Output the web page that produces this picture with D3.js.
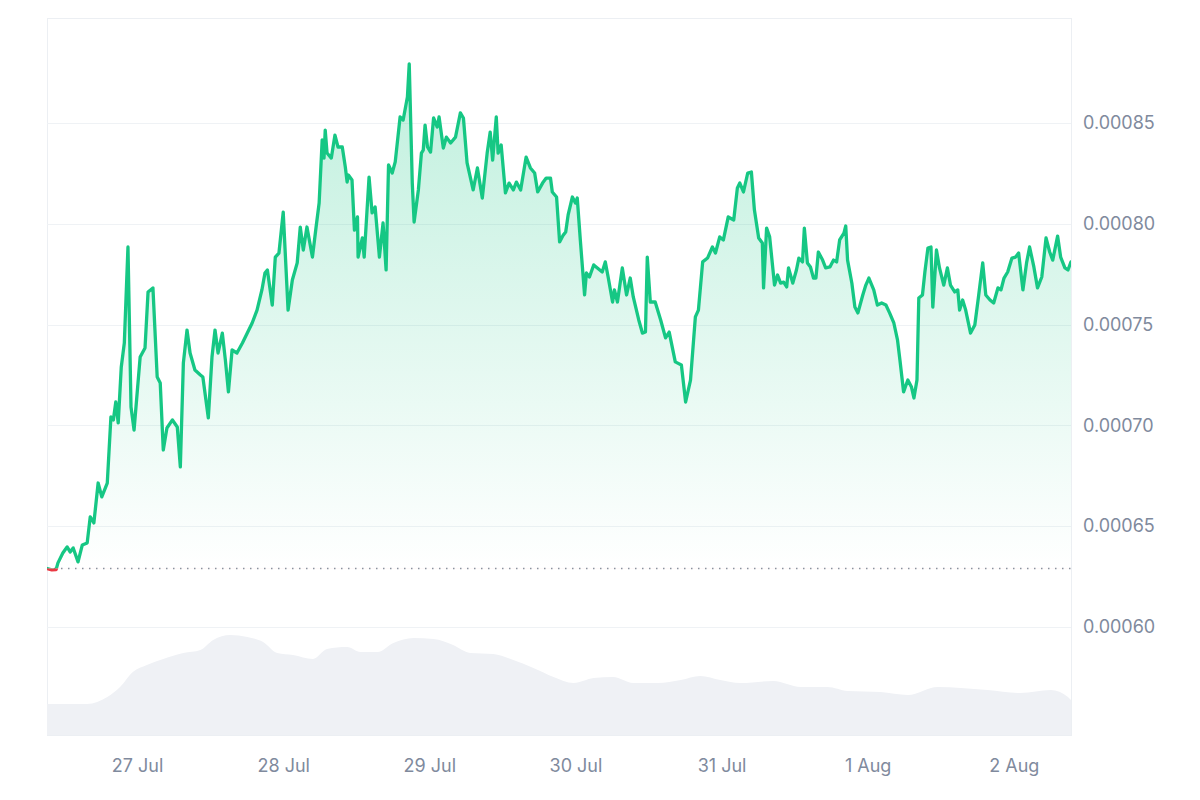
<!DOCTYPE html>
<html>
<head>
<meta charset="utf-8">
<script src="https://cdn.jsdelivr.net/npm/d3@7"></script>
<style>
  html, body { margin: 0; padding: 0; background: #ffffff; }
  svg { display: block; }
  .tick text { font-family: Inter, "Noto Sans", sans-serif; }
</style>
</head>
<body>
<svg id="chart" width="1200" height="800"></svg>
<script>
// ---- data (hours since 26 Jul 00:00 UTC) ----
const priceHours = [9.2,10.0,10.7,11.0,11.8,12.5,13.0,13.5,14.3,15.0,15.8,16.3,16.9,17.6,18.2,19.1,19.7,20.1,20.5,20.9,21.4,21.9,22.5,23.0,23.5,24.5,25.3,25.8,26.6,27.3,27.8,28.3,28.9,29.8,30.6,31.1,31.6,32.2,32.7,33.5,34.4,34.8,35.7,36.3,36.8,37.3,38.0,38.5,39.0,39.6,40.4,41.3,42.1,42.9,43.7,44.5,45.0,45.4,46.2,46.7,47.3,48.0,48.8,49.5,50.3,50.8,51.3,51.9,52.8,53.4,53.9,54.4,54.7,54.9,55.2,55.9,56.5,57.0,57.7,58.2,58.5,58.7,59.3,59.7,60.2,60.3,61.0,61.3,62.1,62.6,63.1,63.8,64.4,64.9,65.3,65.9,66.4,67.2,67.7,68.4,68.7,69.2,69.5,70.2,70.7,71.0,71.3,71.7,72.2,72.7,73.3,73.6,74.3,74.8,75.5,76.3,77.1,77.6,78.2,79.2,79.9,80.7,81.5,82.0,82.4,83.0,83.3,83.8,84.5,85.1,85.8,86.3,87.0,87.9,88.6,89.3,89.8,90.6,91.2,91.9,92.2,92.9,93.4,94.0,94.4,94.8,95.5,96.0,96.3,96.8,97.5,97.8,98.3,99.0,99.6,100.4,100.9,101.4,102.1,102.4,102.9,103.7,104.4,105.0,105.5,106.4,107.0,107.5,107.8,108.3,109.1,110.0,110.8,111.4,112.4,113.4,114.1,114.9,115.7,116.2,116.9,117.7,118.5,119.0,119.7,120.3,121.1,122.0,122.6,123.0,123.6,124.3,124.9,125.4,126.1,126.7,126.9,127.4,127.9,128.7,129.2,129.7,130.2,130.7,131.0,131.7,132.3,132.7,133.3,133.6,134.1,134.6,135.1,135.5,135.9,136.6,137.1,137.8,138.4,138.9,139.4,140.1,140.4,140.7,141.4,141.9,142.4,143.2,143.7,144.2,145.0,145.6,146.3,147.0,147.6,148.3,148.9,149.3,149.9,150.6,151.2,151.6,152.1,152.4,153.0,153.4,153.9,154.4,154.7,155.3,155.8,156.5,157.1,157.6,158.3,158.8,159.1,159.6,160.1,160.9,161.6,162.2,162.9,163.4,164.1,164.7,165.4,165.9,166.4,167.0,167.7,168.3,168.8,169.5,170.1,170.6,171.3,171.9,172.6,173.3,173.9,174.4,175.2,175.7,176.4,176.9,177.4];
const prices = [0.0006290,0.0006283,0.0006285,0.0006318,0.0006367,0.0006397,0.0006372,0.0006392,0.0006323,0.0006407,0.0006417,0.0006546,0.0006516,0.0006714,0.0006645,0.0006714,0.0007042,0.0007027,0.0007116,0.0007012,0.0007290,0.0007409,0.0007885,0.0007091,0.0006977,0.0007339,0.0007384,0.0007662,0.0007682,0.0007240,0.0007210,0.0006878,0.0006987,0.0007027,0.0006992,0.0006794,0.0007310,0.0007473,0.0007359,0.0007275,0.0007250,0.0007240,0.0007037,0.0007339,0.0007473,0.0007359,0.0007458,0.0007324,0.0007166,0.0007374,0.0007359,0.0007409,0.0007458,0.0007508,0.0007572,0.0007672,0.0007756,0.0007771,0.0007597,0.0007835,0.0007855,0.0008058,0.0007572,0.0007721,0.0007806,0.0007984,0.0007870,0.0007984,0.0007835,0.0007984,0.0008103,0.0008416,0.0008326,0.0008465,0.0008351,0.0008326,0.0008440,0.0008381,0.0008381,0.0008282,0.0008207,0.0008242,0.0008217,0.0007969,0.0008034,0.0007835,0.0007930,0.0007835,0.0008232,0.0008054,0.0008083,0.0007835,0.0008004,0.0007771,0.0008292,0.0008252,0.0008307,0.0008530,0.0008515,0.0008629,0.0008793,0.0008202,0.0008009,0.0008168,0.0008351,0.0008366,0.0008490,0.0008381,0.0008356,0.0008525,0.0008480,0.0008530,0.0008376,0.0008430,0.0008401,0.0008430,0.0008550,0.0008525,0.0008302,0.0008168,0.0008277,0.0008128,0.0008351,0.0008455,0.0008316,0.0008530,0.0008351,0.0008391,0.0008153,0.0008202,0.0008168,0.0008207,0.0008168,0.0008331,0.0008277,0.0008252,0.0008158,0.0008202,0.0008227,0.0008227,0.0008158,0.0008133,0.0007910,0.0007944,0.0007959,0.0008044,0.0008133,0.0008103,0.0008128,0.0007920,0.0007647,0.0007756,0.0007736,0.0007796,0.0007781,0.0007761,0.0007811,0.0007731,0.0007612,0.0007672,0.0007612,0.0007781,0.0007647,0.0007731,0.0007637,0.0007523,0.0007458,0.0007463,0.0007835,0.0007612,0.0007612,0.0007523,0.0007434,0.0007463,0.0007315,0.0007300,0.0007116,0.0007225,0.0007538,0.0007572,0.0007811,0.0007830,0.0007885,0.0007855,0.0007935,0.0007920,0.0008034,0.0008019,0.0008178,0.0008202,0.0008158,0.0008252,0.0008257,0.0008068,0.0007930,0.0007905,0.0007682,0.0007979,0.0007935,0.0007696,0.0007746,0.0007706,0.0007711,0.0007687,0.0007781,0.0007706,0.0007771,0.0007830,0.0007811,0.0007979,0.0007806,0.0007786,0.0007731,0.0007731,0.0007860,0.0007820,0.0007781,0.0007786,0.0007820,0.0007811,0.0007920,0.0007954,0.0007989,0.0007820,0.0007706,0.0007587,0.0007558,0.0007647,0.0007696,0.0007731,0.0007672,0.0007597,0.0007607,0.0007597,0.0007558,0.0007508,0.0007424,0.0007324,0.0007166,0.0007225,0.0007190,0.0007136,0.0007225,0.0007632,0.0007647,0.0007761,0.0007880,0.0007885,0.0007587,0.0007870,0.0007781,0.0007696,0.0007781,0.0007696,0.0007662,0.0007672,0.0007572,0.0007622,0.0007572,0.0007458,0.0007498,0.0007637,0.0007806,0.0007647,0.0007622,0.0007607,0.0007682,0.0007672,0.0007731,0.0007761,0.0007830,0.0007835,0.0007855,0.0007672,0.0007806,0.0007885,0.0007786,0.0007682,0.0007736,0.0007930,0.0007860,0.0007820,0.0007939,0.0007835,0.0007781,0.0007771,0.0007811];

const volumeHours = [9.2,15.8,19.1,21.2,23.3,25.6,28.3,31.6,34.4,36.5,39.3,42.1,44.7,47.0,49.6,52.9,55.2,58.5,60.7,63.5,66.1,69.4,72.7,75.9,78.7,82.5,85.8,89.1,92.4,95.7,99.0,102.2,105.5,109.5,113.3,116.5,119.8,123.1,128.5,133.0,137.4,140.7,146.1,150.6,155.5,159.3,163.7,169.1,174.1,176.9,177.4];
const volumes = [15.5,15.5,19.0,24.0,31.5,35.0,38.0,41.0,42.5,47.5,50.0,49.0,46.5,41.0,40.0,38.0,43.0,44.0,41.5,41.5,46.0,48.5,48.0,45.0,41.0,40.5,37.5,33.5,29.0,26.0,28.5,29.0,26.0,26.0,27.5,29.5,27.5,26.0,27.0,24.0,24.0,22.0,21.5,20.0,24.0,23.5,22.5,21.0,22.5,19.0,17.5];

const yTickValues = [0.00060, 0.00065, 0.00070, 0.00075, 0.00080, 0.00085];
const xTickDays = [27, 28, 29, 30, 31, 32, 33];
const xTickLabels = ["27 Jul", "28 Jul", "29 Jul", "30 Jul", "31 Jul", "1 Aug", "2 Aug"];

// ---- layout ----
const plotL = 47, plotR = 1071, plotT = 18, plotB = 735;
const svg = d3.select("#chart");
const baseTime = Date.UTC(2024, 6, 26);
const toDate = h => new Date(baseTime + h * 3600000);

const priceData = priceHours.map((h, i) => ({ t: toDate(h), v: prices[i] }));
const volData = volumeHours.map((h, i) => ({ t: toDate(h), v: volumes[i] }));

const x = d3.scaleUtc()
  .domain([priceData[0].t, priceData[priceData.length - 1].t])
  .range([plotL, plotR]);
const y = d3.scaleLinear().domain([0.0005464, 0.0009021]).range([plotB, plotT]);
const yVol = d3.scaleLinear().domain([0, d3.max(volumes)]).range([plotB, plotB - 100]);

const baseline = prices[0];
const yBase = y(baseline);

const defs = svg.append("defs");
const grad = defs.append("linearGradient").attr("id", "gfill")
  .attr("gradientUnits", "userSpaceOnUse")
  .attr("x1", 0).attr("x2", 0).attr("y1", plotT).attr("y2", yBase);
grad.append("stop").attr("offset", "0%").attr("stop-color", "#16c784").attr("stop-opacity", 0.3);
grad.append("stop").attr("offset", "100%").attr("stop-color", "#16c784").attr("stop-opacity", 0.0);
defs.append("clipPath").attr("id", "clipAbove").append("rect")
  .attr("x", plotL).attr("y", 0).attr("width", plotR - plotL).attr("height", yBase);
defs.append("clipPath").attr("id", "clipBelow").append("rect")
  .attr("x", plotL).attr("y", yBase).attr("width", plotR - plotL).attr("height", 800 - yBase);

// plot frame
svg.append("rect").attr("x", plotL + 0.5).attr("y", plotT + 0.5).attr("width", plotR - plotL).attr("height", plotB - plotT)
  .attr("fill", "none").attr("stroke", "#eceff3").attr("stroke-width", 1);

// gridlines
svg.append("g").selectAll("line").data(yTickValues).join("line")
  .attr("x1", plotL).attr("x2", plotR)
  .attr("y1", d => Math.round(y(d)) + 0.5).attr("y2", d => Math.round(y(d)) + 0.5)
  .attr("stroke", "#eff2f5").attr("stroke-width", 1);

// volume
const volArea = d3.area().x(d => x(d.t)).y0(plotB).y1(d => yVol(d.v)).curve(d3.curveMonotoneX);
svg.append("path").datum(volData).attr("d", volArea).attr("fill", "#eff1f5");

// price area
const area = d3.area().x(d => x(d.t)).y0(yBase).y1(d => y(d.v));
svg.append("path").datum(priceData).attr("d", area).attr("fill", "url(#gfill)").attr("clip-path", "url(#clipAbove)");
svg.append("path").datum(priceData).attr("d", area).attr("fill", "#ea3943").attr("fill-opacity", 0.1).attr("clip-path", "url(#clipBelow)");

// baseline
svg.append("line").attr("x1", plotL).attr("x2", plotR).attr("y1", yBase).attr("y2", yBase)
  .attr("stroke", "#8a929e").attr("stroke-width", 1.5).attr("stroke-dasharray", "1.5,5.5");

// price line
const line = d3.line().x(d => x(d.t)).y(d => y(d.v));
svg.append("path").datum(priceData).attr("d", line).attr("fill", "none")
  .attr("stroke", "#16c784").attr("stroke-width", 3.3).attr("stroke-linejoin", "round").attr("stroke-linecap", "round")
  .attr("clip-path", "url(#clipAbove)");
svg.append("path").datum(priceData).attr("d", line).attr("fill", "none")
  .attr("stroke", "#ea3943").attr("stroke-width", 3.3).attr("stroke-linejoin", "round")
  .attr("clip-path", "url(#clipBelow)");

// y axis (right)
const yAxis = d3.axisRight(y).tickValues(yTickValues).tickFormat(d3.format(".5f")).tickSize(0).tickPadding(12);
const gy = svg.append("g").attr("transform", `translate(${plotR},0)`).call(yAxis);
gy.select(".domain").remove();
gy.selectAll("text").attr("fill", "#808a9d").attr("font-size", 18);

// x axis
const xAxis = d3.axisBottom(x)
  .tickValues(xTickDays.map(d => new Date(Date.UTC(2024, 6, d))))
  .tickFormat((d, i) => xTickLabels[i]).tickSize(0).tickPadding(24);
const gx = svg.append("g").attr("transform", `translate(0,${plotB})`).call(xAxis);
gx.select(".domain").remove();
gx.selectAll("text").attr("fill", "#808a9d").attr("font-size", 18);
</script>
</body>
</html>
